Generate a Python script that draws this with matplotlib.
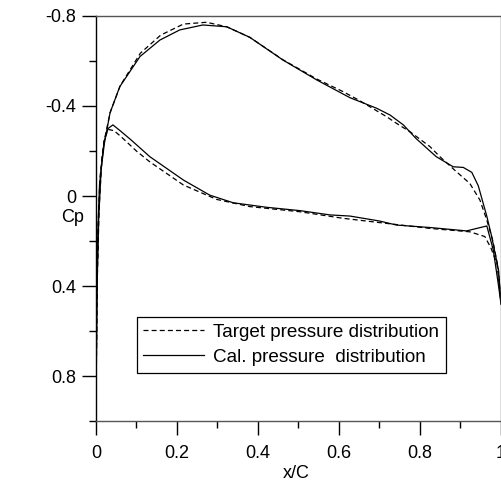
"""Target vs calculated pressure distribution over an airfoil chord."""

import matplotlib
matplotlib.use("Agg")
import matplotlib.pyplot as plt
from matplotlib.ticker import MultipleLocator

plt.rcParams["font.family"] = ["Liberation Sans", "DejaVu Sans"]

# upper surface (suction side)
upper_x_target = [0.0, 0.002, 0.005, 0.010, 0.020, 0.035, 0.060, 0.110, 0.160, 0.216, 0.273,
                  0.323, 0.380, 0.462, 0.545, 0.610, 0.650, 0.718, 0.742, 0.775, 0.825,
                  0.849, 0.890, 0.923, 0.948, 0.965, 0.980, 0.993, 1.0]
upper_cp_target = [1.0, 0.50, 0.15, -0.08, -0.24, -0.37, -0.49, -0.635, -0.715, -0.764, -0.772,
                   -0.752, -0.705, -0.605, -0.52, -0.464, -0.425, -0.352, -0.323, -0.286, -0.219,
                   -0.175, -0.108, -0.056, 0.018, 0.107, 0.20, 0.32, 0.47]

upper_x_cal = [0.0, 0.002, 0.005, 0.009, 0.013, 0.021, 0.035, 0.059, 0.109, 0.158, 0.207, 0.264,
               0.323, 0.380, 0.462, 0.545, 0.627, 0.693, 0.726, 0.759, 0.790, 0.840, 0.882,
               0.907, 0.928, 0.944, 0.965, 0.977, 0.994, 1.0]
upper_cp_cal = [1.0, 0.50, 0.15, -0.05, -0.12, -0.234, -0.37, -0.486, -0.62, -0.693, -0.738, -0.76,
                -0.752, -0.705, -0.604, -0.516, -0.437, -0.39, -0.36, -0.316, -0.256, -0.175, -0.13,
                -0.127, -0.105, -0.045, 0.09, 0.18, 0.33, 0.48]

# lower surface (pressure side)
lower_x_target = [0.0, 0.003, 0.008, 0.015, 0.022, 0.031, 0.045, 0.062, 0.100, 0.133, 0.216,
                  0.298, 0.380, 0.504, 0.610, 0.700, 0.825, 0.923, 0.960, 0.975, 0.990, 1.0]
lower_cp_target = [1.0, 0.40, 0.05, -0.17, -0.26, -0.296, -0.29, -0.264, -0.20, -0.152, -0.049,
                   0.015, 0.047, 0.07, 0.099, 0.118, 0.144, 0.159, 0.18, 0.23, 0.30, 0.47]

lower_x_cal = [0.0, 0.003, 0.007, 0.013, 0.020, 0.030, 0.042, 0.060, 0.087, 0.133, 0.216, 0.281,
               0.339, 0.421, 0.504, 0.578, 0.627, 0.700, 0.742, 0.825, 0.915, 0.965, 0.981,
               0.994, 1.0]
lower_cp_cal = [1.0, 0.40, 0.10, -0.12, -0.24, -0.30, -0.316, -0.29, -0.249, -0.175, -0.071, -0.004,
                0.03, 0.05, 0.065, 0.084, 0.089, 0.111, 0.129, 0.14, 0.155, 0.133, 0.24,
                0.40, 0.48]

fig = plt.figure(figsize=(5.02, 4.84), dpi=100)
ax = fig.add_axes([0.191, 0.130, 0.807, 0.837])

dash = (0, (4, 2.5))
ax.plot(upper_x_target, upper_cp_target, color="black", lw=0.9, ls=dash,
        label="Target pressure distribution")
ax.plot(lower_x_target, lower_cp_target, color="black", lw=0.9, ls=dash)
ax.plot(upper_x_cal, upper_cp_cal, color="black", lw=0.9, label="Cal. pressure  distribution")
ax.plot(lower_x_cal, lower_cp_cal, color="black", lw=0.9)

ax.set_xlim(0, 1)
ax.set_ylim(1.0, -0.8)

ax.xaxis.set_minor_locator(MultipleLocator(0.1))
ax.yaxis.set_minor_locator(MultipleLocator(0.2))
ax.set_xticks([0, 0.2, 0.4, 0.6, 0.8, 1.0], ["0", "0.2", "0.4", "0.6", "0.8", "1"])
ax.set_yticks([-0.8, -0.4, 0, 0.4, 0.8], ["-0.8", "-0.4", "0", "0.4", "0.8"])

ax.tick_params(which="both", direction="out", width=1.0, labelsize=13, top=False, right=False)
ax.tick_params(which="major", length=10)
ax.tick_params(which="minor", length=5)
ax.tick_params(axis="x", pad=7)
ax.tick_params(axis="y", pad=4)

for side in ["left", "bottom", "top", "right"]:
    ax.spines[side].set_linewidth(1.0)
for side in ["top", "right", "bottom"]:
    ax.spines[side].set_color("#555555")

ax.set_xlabel("x/C", fontsize=13)
ax.xaxis.set_label_coords(0.494, -0.108)
ax.set_ylabel("Cp", fontsize=13, rotation=0, va="center", ha="center")
ax.yaxis.set_label_coords(-0.057, 0.503)

leg = ax.legend(loc="upper left", bbox_to_anchor=(0.101, 0.257), fontsize=13.6,
                frameon=True, fancybox=False, edgecolor="black", framealpha=1,
                handlelength=3.2, handletextpad=0.5, borderaxespad=0, labelspacing=0.42,
                borderpad=0.35)
leg.get_frame().set_linewidth(0.9)

fig.savefig("out.png", dpi=100)
